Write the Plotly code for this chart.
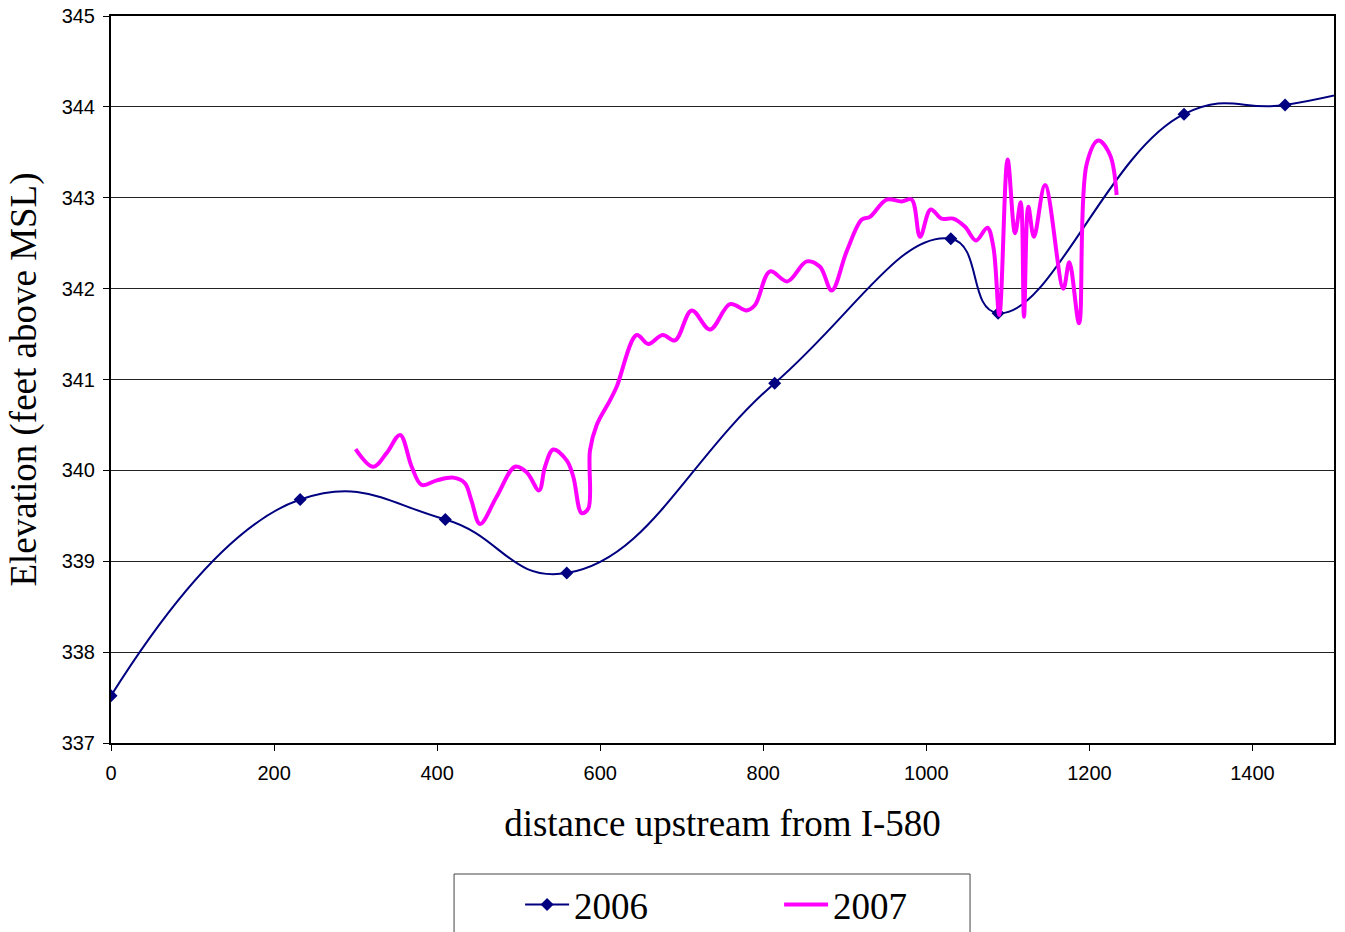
import plotly.graph_objects as go

# 2006 survey (markers), smoothed line
dist_2006 = [0, 232, 410, 559, 814, 1030, 1088, 1316, 1440, 1560]
elev_2006 = [337.52, 339.68, 339.46, 338.87, 340.96, 342.55, 341.73, 343.92, 344.02, 344.26]

# 2007 survey (line only)
dist_2007 = [300, 321.7, 338, 354.5, 368.8, 381, 399.5, 419.8, 434, 442, 452.6, 473, 495.5,
             509.8, 525, 532.3, 542.5, 558.9, 567, 577.2, 585.4, 587.5, 595.7, 612, 620.2,
             644.7, 659, 676.5, 691.8, 712.2, 734.7, 759.2, 779.6, 789.9, 808.3, 829.6,
             853.3, 869.6, 883.9, 902.3, 920.8, 930.9, 951.3, 969.7, 982, 992.3, 1005.3,
             1018.7, 1033, 1047.5, 1061, 1074.8, 1082.2, 1089.5, 1099.7, 1108.8, 1115.7,
             1119.8, 1125.1, 1132, 1145.6, 1168, 1175.4, 1187.3, 1196.6, 1210.9, 1225.3,
             1233.4]
elev_2007 = [340.235, 340.04, 340.19, 340.39, 340.04, 339.84, 339.89, 339.92, 339.86, 339.67,
             339.41, 339.71, 340.04, 339.98, 339.78, 340.04, 340.23, 340.11, 339.93, 339.53,
             339.58, 340.22, 340.5, 340.77, 340.92, 341.49, 341.39, 341.49, 341.43, 341.76,
             341.55, 341.83, 341.76, 341.82, 342.19, 342.08, 342.30, 342.24, 341.98, 342.41,
             342.76, 342.79, 342.98, 342.96, 342.98, 342.57, 342.87, 342.77, 342.77, 342.68,
             342.53, 342.67, 342.46, 341.71, 343.42, 342.61, 342.95, 341.69, 342.9, 342.57,
             343.14, 342.0, 342.29, 341.62, 343.37, 343.63, 343.47, 343.03]

x_ticks = [0, 200, 400, 600, 800, 1000, 1200, 1400]
y_ticks = [337, 338, 339, 340, 341, 342, 343, 344, 345]

fig = go.Figure()
fig.add_trace(go.Scatter(
    x=dist_2006, y=elev_2006, name="2006", mode="lines+markers",
    line=dict(color="#000080", width=2, shape="spline", smoothing=1.3),
    marker=dict(symbol="diamond", size=10, color="#000080"),
))
fig.add_trace(go.Scatter(
    x=dist_2007, y=elev_2007, name="2007", mode="lines",
    line=dict(color="#FF00FF", width=4, shape="spline", smoothing=1),
))

axis_font = dict(family="Liberation Sans, Arial, sans-serif", size=20, color="black")
title_font = dict(family="Liberation Serif, Times New Roman, serif", size=37, color="black")

# legend frame (drawn as a paper-referenced rectangle)
fig.add_shape(type="rect", xref="paper", yref="paper",
              x0=0.2805, x1=0.7024, y0=-0.28, y1=-0.1802,
              line=dict(color="#444", width=1), fillcolor="rgba(0,0,0,0)", layer="below")

fig.update_layout(
    width=1345, height=932,
    margin=dict(l=111, r=11, t=16, b=189, autoexpand=False),
    paper_bgcolor="white", plot_bgcolor="white",
    showlegend=True,
    legend=dict(
        orientation="h", x=0.3345, xanchor="left", y=-0.18, yanchor="top",
        font=dict(family="Liberation Serif, Times New Roman, serif", size=37, color="black"),
        borderwidth=0, bgcolor="rgba(0,0,0,0)",
        entrywidth=200, entrywidthmode="pixels", itemwidth=44,
    ),
    xaxis=dict(
        range=[0, 1500], tickvals=x_ticks, ticktext=[str(v) for v in x_ticks],
        showgrid=False, zeroline=False, showline=True, linecolor="black", linewidth=2,
        mirror=True, ticks="outside", ticklen=6, tickcolor="black", tickwidth=1,
        tickfont=axis_font, ticklabelstandoff=5, automargin=False,
        title=dict(text="distance upstream from I-580", font=title_font, standoff=27),
    ),
    yaxis=dict(
        range=[337, 345], tickvals=y_ticks, ticktext=[str(v) for v in y_ticks],
        showgrid=True, gridcolor="#222", gridwidth=1,
        zeroline=False, showline=True, linecolor="black", linewidth=2,
        mirror=True, ticks="outside", ticklen=6, tickcolor="black", tickwidth=1,
        tickfont=axis_font, ticklabelstandoff=4, automargin=False,
        title=dict(text="Elevation (feet above MSL)", font=title_font, standoff=14),
    ),
)

fig.write_html("out.html")
